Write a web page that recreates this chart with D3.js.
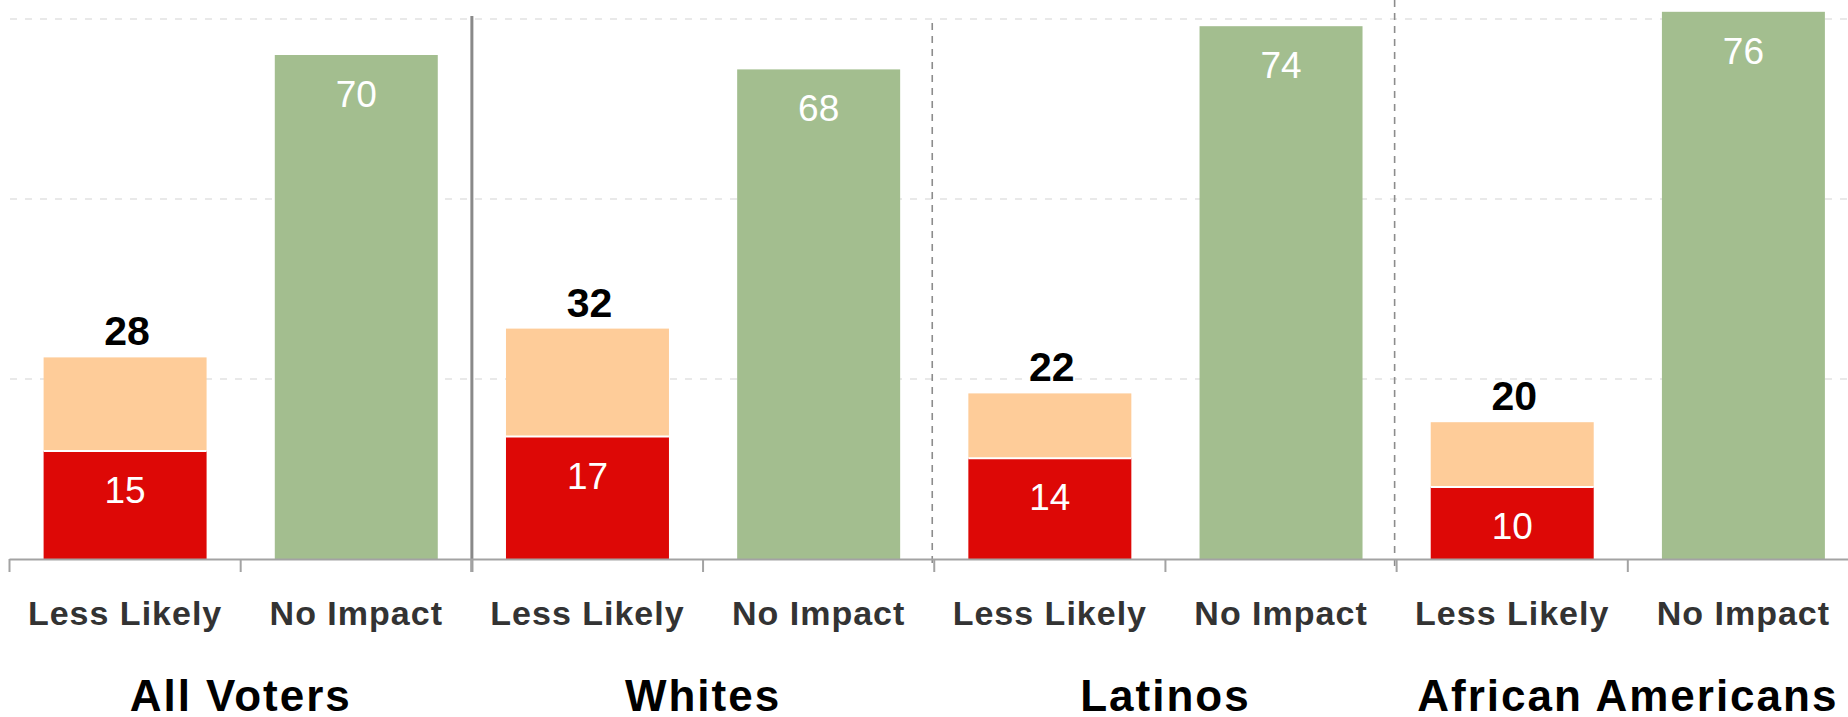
<!DOCTYPE html>
<html>
<head>
<meta charset="utf-8">
<script src="https://d3js.org/d3.v7.min.js"></script>
<style>
  html, body { margin: 0; padding: 0; background: #fff; }
  svg { display: block; }
  text { font-family: "Liberation Sans", Arial, Helvetica, sans-serif; }
</style>
</head>
<body>
<div id="chart"></div>
<script>
// ---- data ----
const groups = ["All Voters", "Whites", "Latinos", "African Americans"];
const answers = ["Less Likely", "No Impact"];
const muchLess = [15, 17, 14, 10];          // red segment
const somewhatLess = [13, 15, 9, 9];        // peach segment (as drawn)
const lessTotalLabels = [28, 32, 22, 20];   // bold labels above stacks
const noImpact = [70, 68, 74, 76];          // green bars
const gridValues = [25, 50, 75];

// ---- layout ----
const W = 1848, H = 717;
const svg = d3.select("#chart").append("svg").attr("width", W).attr("height", H);

const slots = [];
groups.forEach((g, gi) => answers.forEach((a, ai) => slots.push({ g, gi, a, ai, key: g + "|" + a })));

const x = d3.scaleBand()
  .domain(slots.map(d => d.key))
  .range([9.5, 1859])
  .paddingInner(0.295)
  .paddingOuter(0.1475);
const step = x.step();
const x0 = x.range()[0];
const y = d3.scaleLinear().domain([0, 75]).range([559, 19]);

const red = "#DD0806", peach = "#FECC99", green = "#A3BE8F";

// gridlines
svg.append("g").selectAll("line").data(gridValues).join("line")
  .attr("x1", 10).attr("x2", W)
  .attr("y1", d => y(d)).attr("y2", d => y(d))
  .attr("stroke", "#d3d3d3").attr("stroke-width", 1.2)
  .attr("stroke-dasharray", "7,8");

// separators between groups
const bounds = d3.range(slots.length + 1).map(i => x0 + i * step);
svg.append("line")
  .attr("x1", bounds[2]).attr("x2", bounds[2])
  .attr("y1", 16).attr("y2", 572)
  .attr("stroke", "#898989").attr("stroke-width", 3);
[[4, 23], [6, 0]].forEach(([bi, top]) => {
  svg.append("line")
    .attr("x1", bounds[bi] - 2).attr("x2", bounds[bi] - 2)
    .attr("y1", top).attr("y2", 566)
    .attr("stroke", "#8c8c8c").attr("stroke-width", 1.6)
    .attr("stroke-dasharray", "7,6");
});

// bars
const lessSlots = slots.filter(d => d.ai === 0);
const noSlots = slots.filter(d => d.ai === 1);

svg.append("g").selectAll("rect").data(lessSlots).join("rect")
  .attr("x", d => x(d.key)).attr("width", x.bandwidth())
  .attr("y", d => y(muchLess[d.gi] + somewhatLess[d.gi]))
  .attr("height", d => y(muchLess[d.gi]) - y(muchLess[d.gi] + somewhatLess[d.gi]))
  .attr("fill", peach);

svg.append("g").selectAll("rect").data(lessSlots).join("rect")
  .attr("x", d => x(d.key)).attr("width", x.bandwidth())
  .attr("y", d => y(muchLess[d.gi]))
  .attr("height", d => y(0) - y(muchLess[d.gi]))
  .attr("fill", red);

// white divider between segments
svg.append("g").selectAll("line").data(lessSlots).join("line")
  .attr("x1", d => x(d.key)).attr("x2", d => x(d.key) + x.bandwidth())
  .attr("y1", d => y(muchLess[d.gi])).attr("y2", d => y(muchLess[d.gi]))
  .attr("stroke", "#fff").attr("stroke-width", 2);

svg.append("g").selectAll("rect").data(noSlots).join("rect")
  .attr("x", d => x(d.key)).attr("width", x.bandwidth())
  .attr("y", d => y(noImpact[d.gi]))
  .attr("height", d => y(0) - y(noImpact[d.gi]))
  .attr("fill", green);

// inside labels
svg.append("g").selectAll("text").data(lessSlots).join("text")
  .attr("x", d => x(d.key) + x.bandwidth() / 2)
  .attr("y", d => y(muchLess[d.gi]) + 52)
  .attr("text-anchor", "middle").attr("fill", "#fff")
  .attr("font-size", 37)
  .text(d => muchLess[d.gi]);

svg.append("g").selectAll("text").data(noSlots).join("text")
  .attr("x", d => x(d.key) + x.bandwidth() / 2)
  .attr("y", d => y(noImpact[d.gi]) + 52)
  .attr("text-anchor", "middle").attr("fill", "#fff")
  .attr("font-size", 37)
  .text(d => noImpact[d.gi]);

// total labels above stacks
svg.append("g").selectAll("text").data(lessSlots).join("text")
  .attr("x", d => x(d.key) + x.bandwidth() / 2 + 2)
  .attr("y", d => y(muchLess[d.gi] + somewhatLess[d.gi]) - 12)
  .attr("text-anchor", "middle").attr("fill", "#000")
  .attr("font-size", 41).attr("font-weight", "bold")
  .text(d => lessTotalLabels[d.gi]);

// x axis line + ticks
svg.append("line")
  .attr("x1", bounds[0]).attr("x2", bounds[bounds.length - 1])
  .attr("y1", y(0) + 0.5).attr("y2", y(0) + 0.5)
  .attr("stroke", "#a3a3a3").attr("stroke-width", 2);
svg.append("g").selectAll("line").data(bounds).join("line")
  .attr("x1", d => d).attr("x2", d => d)
  .attr("y1", y(0)).attr("y2", 572)
  .attr("stroke", "#a3a3a3").attr("stroke-width", 2);

// category labels
svg.append("g").selectAll("text").data(slots).join("text")
  .attr("x", d => x(d.key) + x.bandwidth() / 2)
  .attr("y", 625)
  .attr("text-anchor", "middle").attr("fill", "#333333")
  .attr("font-size", 34).attr("font-weight", "bold")
  .attr("letter-spacing", 1)
  .text(d => d.a);

// group titles
svg.append("g").selectAll("text").data(groups).join("text")
  .attr("x", (d, i) => bounds[i * 2 + 1])
  .attr("y", 711)
  .attr("text-anchor", "middle").attr("fill", "#000")
  .attr("font-size", 44).attr("font-weight", "bold")
  .attr("letter-spacing", 2)
  .text(d => d);
</script>
</body>
</html>
